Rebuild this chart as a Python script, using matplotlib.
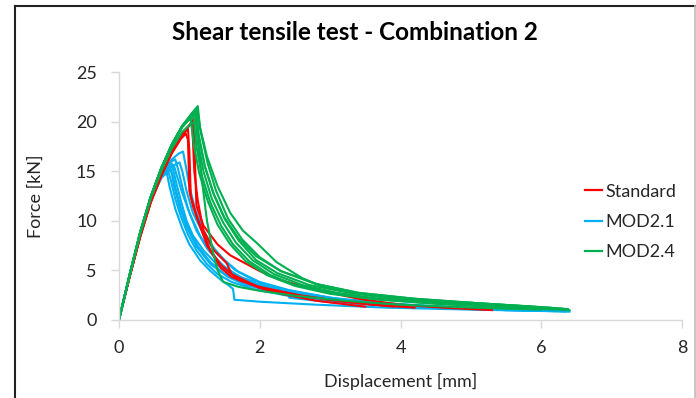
import matplotlib
matplotlib.use("Agg")
from matplotlib import pyplot as plt
from matplotlib.lines import Line2D

plt.rcParams['font.family'] = ['Lato', 'DejaVu Sans']

# Standard (red)
std_disp = [
	[0, 0.15, 0.3, 0.45, 0.6, 0.75, 0.9, 1.0, 1.06, 1.08, 1.10, 1.2, 1.4, 1.58, 2.0, 2.29, 2.8, 3.4, 4.0, 4.6, 5.3],
	[0, 0.15, 0.3, 0.45, 0.6, 0.75, 0.9, 0.98, 1.0, 1.02, 1.1, 1.25, 1.45, 1.6, 2.0, 2.5, 3.0, 3.6, 4.2],
	[0, 0.15, 0.3, 0.45, 0.6, 0.75, 0.9, 1.0, 1.04, 1.07, 1.12, 1.2, 1.35, 1.53, 1.6, 2.0, 2.3, 2.8, 3.5],
	[0, 0.15, 0.3, 0.45, 0.6, 0.75, 0.88, 0.95, 0.98, 1.0, 1.05, 1.15, 1.3, 1.45, 1.7, 2.0, 2.6, 3.2, 3.9],
]
std_force = [
	[0, 4.3, 8.4, 11.9, 14.7, 17.0, 18.8, 19.7, 20.3, 16, 11.5, 9.5, 7.6, 6.5, 4.9, 4.0, 3.0, 2.1, 1.5, 1.2, 0.95],
	[0, 4.3, 8.4, 11.9, 14.6, 16.9, 18.6, 19.3, 17, 12.5, 10.5, 7.5, 5.2, 4.3, 3.2, 2.5, 2.0, 1.5, 1.2],
	[0, 4.3, 8.4, 11.9, 14.7, 17.0, 18.8, 19.6, 19.9, 15, 12, 9, 7, 5.7, 4.6, 3.2, 2.6, 1.9, 1.3],
	[0, 4.3, 8.3, 11.8, 14.5, 16.8, 18.3, 18.8, 18.2, 13, 11.5, 9.5, 7.0, 5.5, 4.0, 3.3, 2.4, 1.8, 1.3],
]

# MOD2.1 (blue)
mod21_disp = [
	[0, 0.15, 0.3, 0.45, 0.6, 0.75, 0.85, 0.91, 0.95, 1.0, 1.08, 1.2, 1.35, 1.5, 1.7, 2.0, 2.5, 3.2, 4.0, 5.0, 6.4],
	[0, 0.15, 0.3, 0.45, 0.6, 0.7, 0.75, 0.8, 0.88, 0.96, 1.05, 1.2, 1.4, 1.6, 1.93, 1.95, 2.4, 2.42, 3.0, 4.0, 5.0, 5.8],
	[0, 0.15, 0.3, 0.45, 0.6, 0.68, 0.72, 0.76, 0.82, 0.9, 1.0, 1.12, 1.3, 1.5, 1.8, 2.2, 3.0, 4.0, 5.2, 6.3],
	[0, 0.15, 0.3, 0.45, 0.6, 0.72, 0.80, 0.84, 0.9, 0.98, 1.1, 1.25, 1.45, 1.7, 2.0, 2.6, 3.4, 4.5, 5.6, 6.4],
	[0, 0.15, 0.3, 0.45, 0.6, 0.66, 0.70, 0.74, 0.8, 0.88, 0.98, 1.1, 1.25, 1.4, 1.6, 1.9, 2.4, 3.2, 4.2, 5.5],
	[0, 0.15, 0.3, 0.45, 0.6, 0.72, 0.78, 0.82, 0.9, 1.0, 1.15, 1.3, 1.5, 1.8, 2.1, 2.6, 3.3, 4.3, 5.5, 6.35],
	[0, 0.15, 0.3, 0.45, 0.6, 0.75, 0.86, 0.9, 0.96, 1.05, 1.2, 1.4, 1.65, 2.0, 2.4, 3.0, 3.8, 4.8, 6.0],
	[0, 0.15, 0.3, 0.45, 0.6, 0.7, 0.74, 0.78, 0.86, 0.96, 1.1, 1.3, 1.55, 1.8, 2.2, 2.8, 3.6, 4.6, 5.9],
	[0, 0.15, 0.3, 0.45, 0.6, 0.64, 0.68, 0.72, 0.8, 0.9, 1.0, 1.15, 1.3, 1.45, 1.55, 1.62, 1.64, 2.0, 2.8, 3.8, 5.0, 6.2],
]
mod21_force = [
	[0, 4.4, 8.6, 12.0, 14.6, 16.2, 16.8, 17.0, 15.5, 13.5, 11.2, 9.0, 7.2, 6.0, 4.8, 3.7, 2.8, 2.0, 1.5, 1.15, 0.85],
	[0, 4.4, 8.6, 12.0, 14.5, 15.5, 15.8, 14.2, 12.0, 10.0, 8.5, 7.0, 5.5, 4.6, 3.8, 3.3, 2.7, 2.2, 1.75, 1.3, 1.05, 0.9],
	[0, 4.4, 8.6, 12.0, 14.5, 15.2, 15.4, 14.6, 12.8, 10.8, 9.0, 7.4, 5.8, 4.6, 3.6, 2.9, 2.0, 1.4, 1.1, 0.85],
	[0, 4.4, 8.6, 12.0, 14.6, 15.9, 16.2, 15.2, 13.4, 11.2, 9.0, 7.2, 5.6, 4.3, 3.5, 2.5, 1.8, 1.3, 1.0, 0.8],
	[0, 4.4, 8.6, 12.0, 14.4, 14.8, 15.0, 14.0, 12.2, 10.4, 8.6, 7.0, 5.6, 4.6, 3.8, 3.1, 2.4, 1.75, 1.3, 0.95],
	[0, 4.4, 8.6, 12.0, 14.5, 15.4, 15.6, 14.6, 12.8, 10.8, 8.5, 6.8, 5.3, 4.0, 3.2, 2.4, 1.75, 1.25, 0.95, 0.8],
	[0, 4.4, 8.6, 12.0, 14.5, 15.5, 15.9, 15.0, 13.0, 10.8, 8.6, 6.6, 5.0, 3.8, 3.0, 2.2, 1.65, 1.2, 0.9],
	[0, 4.4, 8.6, 12.0, 14.4, 15.0, 15.2, 13.6, 11.4, 9.4, 7.4, 5.6, 4.3, 3.5, 2.8, 2.1, 1.55, 1.15, 0.9],
	[0, 4.4, 8.6, 12.0, 14.3, 14.6, 14.8, 13.4, 11.2, 9.2, 7.6, 6.0, 4.9, 4.0, 3.5, 3.1, 2.0, 1.8, 1.5, 1.2, 1.0, 0.85],
]

# MOD2.4 (green)
mod24_disp = [
	[0, 0.15, 0.3, 0.45, 0.6, 0.75, 0.9, 1.05, 1.12, 1.15, 1.25, 1.4, 1.58, 1.76, 1.95, 2.24, 2.6, 2.9, 3.3, 3.7, 4.4, 5.1, 5.8, 6.38],
	[0, 0.15, 0.3, 0.45, 0.6, 0.75, 0.9, 1.04, 1.10, 1.13, 1.22, 1.35, 1.5, 1.7, 1.95, 2.25, 2.7, 3.2, 3.8, 4.6, 5.5, 6.35],
	[0, 0.15, 0.3, 0.45, 0.6, 0.75, 0.9, 1.02, 1.08, 1.12, 1.2, 1.32, 1.48, 1.66, 1.9, 2.2, 2.6, 3.1, 3.7, 4.5, 5.4, 6.3],
	[0, 0.15, 0.3, 0.45, 0.6, 0.75, 0.9, 1.05, 1.12, 1.16, 1.26, 1.38, 1.55, 1.75, 2.0, 2.3, 2.8, 3.4, 4.2, 5.2, 6.2],
	[0, 0.15, 0.3, 0.45, 0.6, 0.75, 0.9, 1.0, 1.06, 1.1, 1.18, 1.3, 1.45, 1.62, 1.85, 2.15, 2.5, 3.0, 3.6, 4.4, 5.3, 6.1],
	[0, 0.15, 0.3, 0.45, 0.6, 0.75, 0.9, 1.04, 1.10, 1.12, 1.18, 1.25, 1.33, 1.4, 1.48, 1.7, 2.0, 2.5, 3.2, 4.0, 5.0, 6.0],
	[0, 0.15, 0.3, 0.45, 0.6, 0.75, 0.9, 0.98, 1.02, 1.06, 1.14, 1.26, 1.4, 1.58, 1.8, 2.1, 2.5, 3.0, 3.7, 4.6, 5.6, 6.4],
	[0, 0.15, 0.3, 0.45, 0.6, 0.75, 0.9, 1.02, 1.1, 1.14, 1.22, 1.34, 1.5, 1.7, 1.95, 2.3, 2.8, 3.4, 4.2, 5.2, 6.3],
]
mod24_force = [
	[0, 4.5, 8.8, 12.4, 15.3, 17.7, 19.6, 21.0, 21.6, 19.5, 16.5, 13.5, 10.8, 9.0, 7.8, 5.8, 4.2, 3.3, 2.7, 2.3, 1.9, 1.65, 1.35, 1.05],
	[0, 4.5, 8.8, 12.4, 15.3, 17.7, 19.6, 20.8, 21.2, 18.8, 15.5, 12.6, 10.2, 8.0, 6.0, 4.7, 3.5, 2.8, 2.2, 1.7, 1.3, 1.0],
	[0, 4.5, 8.8, 12.4, 15.3, 17.7, 19.6, 20.5, 20.8, 18.0, 15.0, 12.2, 9.8, 7.8, 6.0, 4.6, 3.5, 2.7, 2.1, 1.7, 1.35, 1.05],
	[0, 4.5, 8.8, 12.4, 15.3, 17.7, 19.6, 20.7, 21.0, 19.0, 15.8, 13.0, 10.2, 8.1, 6.3, 4.9, 3.6, 2.7, 2.1, 1.6, 1.15],
	[0, 4.5, 8.8, 12.4, 15.3, 17.6, 19.5, 20.3, 20.5, 17.5, 14.5, 11.8, 9.5, 7.6, 5.9, 4.5, 3.5, 2.7, 2.1, 1.65, 1.3, 1.05],
	[0, 4.5, 8.8, 12.4, 15.3, 17.7, 19.6, 20.9, 21.3, 18.1, 14.0, 10.0, 7.0, 5.0, 3.8, 3.3, 2.9, 2.4, 1.9, 1.5, 1.2, 1.0],
	[0, 4.5, 8.8, 12.4, 15.3, 17.6, 19.5, 20.1, 20.3, 17.8, 14.8, 12.0, 9.6, 7.6, 5.9, 4.5, 3.4, 2.6, 2.0, 1.55, 1.2, 0.95],
	[0, 4.4, 8.6, 12.2, 15.0, 17.3, 19.0, 19.8, 20.0, 18.2, 15.5, 12.8, 10.3, 8.2, 6.4, 4.9, 3.6, 2.7, 2.1, 1.6, 1.1],
]

series_names = ["Standard", "MOD2.1", "MOD2.4"]
series_colors = ["#FF0000", "#00B0F0", "#00B050"]
x_ticks = [0, 2, 4, 6, 8]
y_ticks = [0, 5, 10, 15, 20, 25]

text_color = "#262626"
axis_grey = "#D9D9D9"

fig = plt.figure(figsize=(6.96, 3.98), dpi=100)
ax = fig.add_axes([119 / 696, 1 - 319.5 / 398, 563 / 696, 247 / 398])

# draw blue first, then red, then green on top
groups = [(std_disp, std_force), (mod21_disp, mod21_force), (mod24_disp, mod24_force)]
for idx in [1, 0, 2]:
	xs, ys = groups[idx]
	for x, y in zip(xs, ys):
		ax.plot(x, y, color=series_colors[idx], lw=1.5, solid_joinstyle='round')

ax.set_xlim(0, 8)
ax.set_ylim(0, 25)
ax.set_xticks(x_ticks)
ax.set_yticks(y_ticks)
for side in ["top", "right"]:
	ax.spines[side].set_visible(False)
for side in ["left", "bottom"]:
	ax.spines[side].set_color(axis_grey)
	ax.spines[side].set_linewidth(1)
ax.tick_params(axis='both', direction='out', length=6, width=1, color=axis_grey,
	labelsize=13, labelcolor=text_color)
ax.tick_params(axis='x', pad=9)
ax.tick_params(axis='y', pad=10)

ax.set_xlabel("Displacement [mm]", fontsize=13, color=text_color, labelpad=12)
ax.set_ylabel("Force [kN]", fontsize=13, color=text_color)
ax.yaxis.set_label_coords(-0.133, 0.5)
fig.text(355 / 696, 1 - 32 / 398, "Shear tensile test - Combination 2", ha='center', va='center',
	fontsize=17.5, fontweight='bold', color='black')

handles = [Line2D([], [], color=c, lw=1.6) for c in series_colors]
fig.legend(handles, series_names, loc='center left', bbox_to_anchor=(585 / 696, 1 - 222 / 398),
	frameon=False, fontsize=13, handlelength=0.95, handletextpad=0.2, labelspacing=0.8,
	borderpad=0, borderaxespad=0, labelcolor=text_color)

# outer chart frame
fig.add_artist(Line2D([15 / 696, 15 / 696], [-0.01, 1 - 6 / 398], transform=fig.transFigure, color='#222222', lw=1.5))
fig.add_artist(Line2D([15 / 696, 695 / 696], [1 - 6 / 398, 1 - 6 / 398], transform=fig.transFigure, color='#222222', lw=1.5))
fig.add_artist(Line2D([695 / 696, 695 / 696], [-0.01, 1 - 6 / 398], transform=fig.transFigure, color='#BBBBBB', lw=1.2))

fig.savefig("out.png", dpi=100)
